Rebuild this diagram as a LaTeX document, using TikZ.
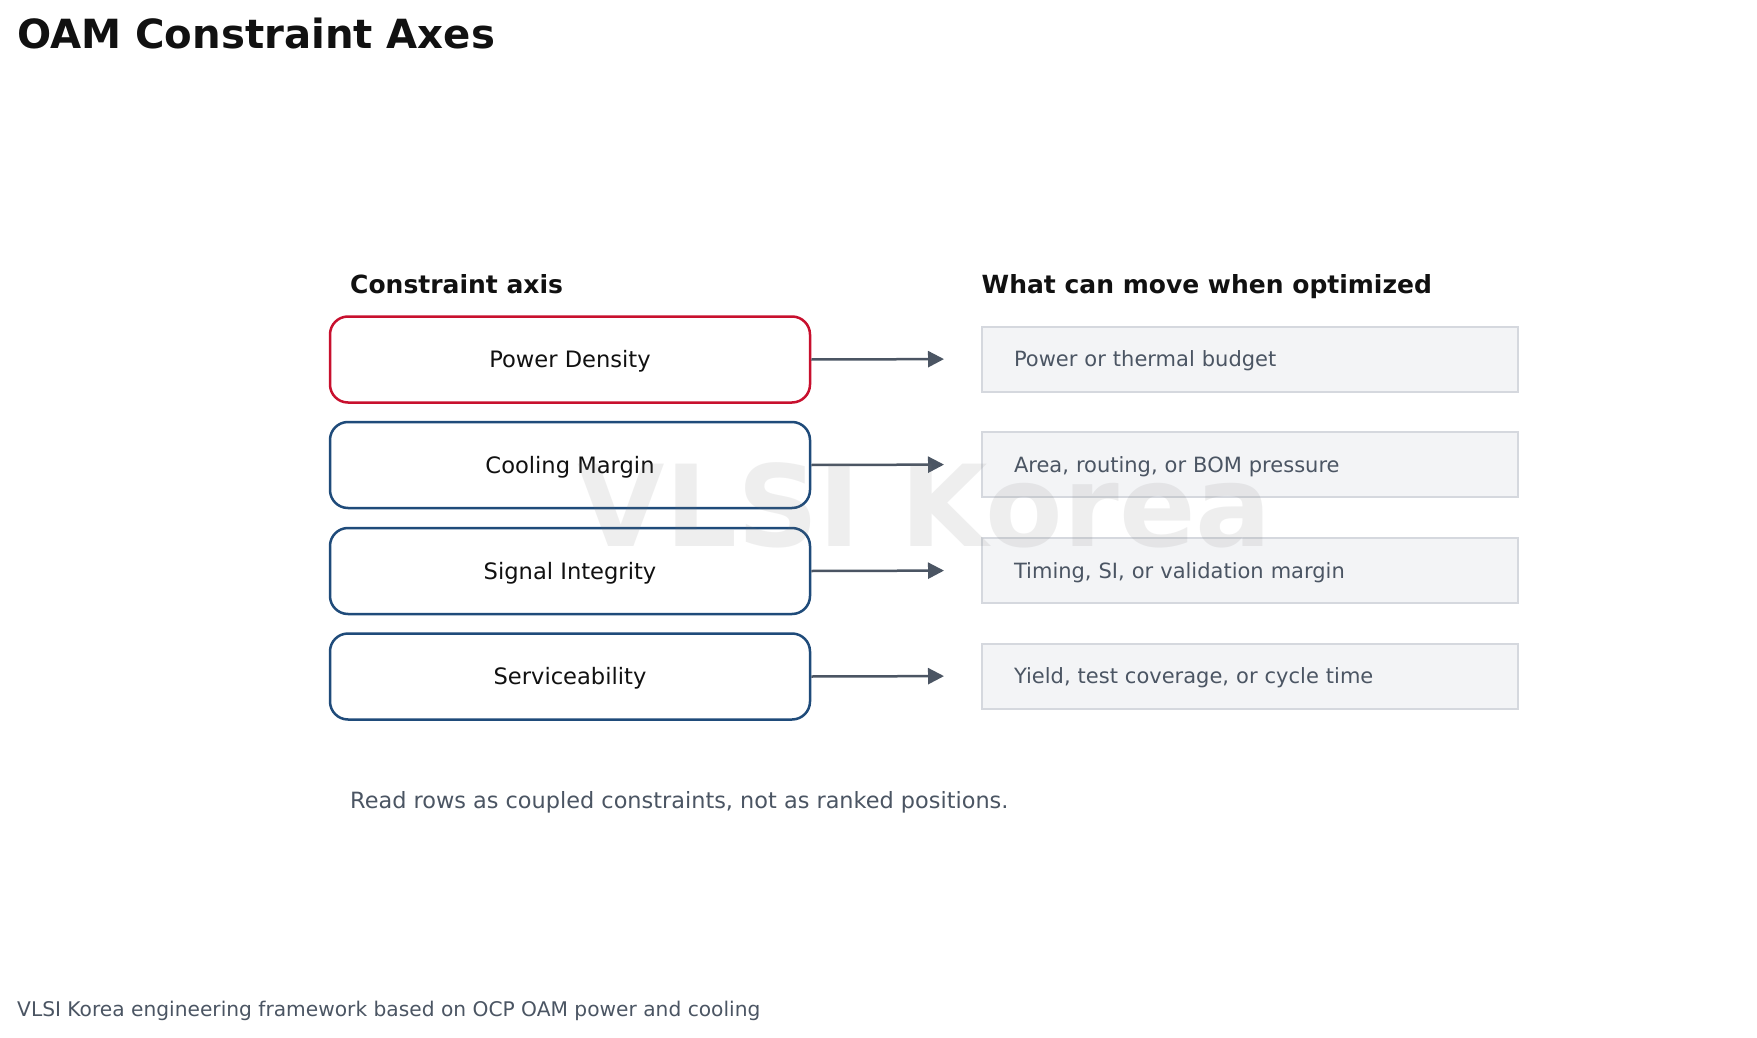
\documentclass[tikz,border=0pt]{standalone}
\usepackage{fontspec}
\setmainfont{DejaVu Sans}
\usetikzlibrary{arrows.meta}
\definecolor{titlec}{HTML}{111111}
\definecolor{redc}{HTML}{C8102E}
\definecolor{navyc}{HTML}{1F4B7A}
\definecolor{arrc}{HTML}{4B5563}
\definecolor{boxfill}{HTML}{F3F4F6}
\definecolor{boxline}{HTML}{D5D8DE}
\definecolor{wmc}{HTML}{787878}
\tikzset{
  axisbox/.style={draw=navyc, line width=2.5pt, rounded corners=18pt, fill=white,
    minimum width=480pt, minimum height=86pt, inner sep=0pt, text height=16.2pt, text depth=0pt,
    font=\fontsize{22.6}{27}\selectfont, text=titlec},
  movebox/.style={draw=boxline, line width=2pt, fill=boxfill,
    minimum height=65pt, text width=471.5pt, align=left, inner xsep=32.5pt, inner ysep=0pt,
    text height=15.6pt, text depth=0pt,
    font=\fontsize{21}{25}\selectfont, text=arrc},
  arr/.style={draw=arrc, line width=2.5pt, -{Triangle[length=16pt,width=16pt]}, shorten >=36.5pt},
  heading/.style={anchor=base west, inner sep=0pt, font=\bfseries\fontsize{25}{30}\selectfont, text=titlec},
}
\begin{document}
\begin{tikzpicture}[x=1pt,y=-1pt]
\useasboundingbox[fill=white] (0,0) rectangle (1757,1038);
\node[anchor=base west, inner sep=0pt, font=\bfseries\fontsize{40.2}{48}\selectfont, text=titlec] (title) at (17,49) {OAM Constraint Axes};
\node[heading] (h1) at (350,293.5) {Constraint axis};
\node[heading] (h2) at (981.5,293.5) {What can move when optimized};

\node[axisbox, draw=redc] (a1) at (570,359.5) {Power Density};
\node[axisbox] (a2) at (570,465) {Cooling Margin};
\node[axisbox] (a3) at (570,571) {Signal Integrity};
\node[axisbox] (a4) at (570,676.5) {Serviceability};

\node[movebox] (b1) at (1249.75,359) {Power or thermal budget};
\node[movebox] (b2) at (1249.75,464.5) {Area, routing, or BOM pressure};
\node[movebox] (b3) at (1249.75,570.5) {Timing, SI, or validation margin};
\node[movebox] (b4) at (1249.75,676) {Yield, test coverage, or cycle time};

\draw[arr] (a1.east) -- (b1.west);
\draw[arr] (a2.east) -- (b2.west);
\draw[arr] (a3.east) -- (b3.west);
\draw[arr] (a4.east) -- (b4.west);

\node[anchor=base west, inner sep=0pt, font=\fontsize{22.4}{27}\selectfont, text=arrc] (note) at (350,808) {Read rows as coupled constraints, not as ranked positions.};
\node[anchor=base west, inner sep=0pt, font=\fontsize{20.2}{24}\selectfont, text=arrc] (foot) at (17,1016) {VLSI Korea engineering framework based on OCP OAM power and cooling};

\node[anchor=base, inner sep=0pt, font=\bfseries\fontsize{113}{130}\selectfont, text=wmc, text opacity=0.12] (wm) at (925,546) {VLSI Korea};
\end{tikzpicture}
\end{document}
